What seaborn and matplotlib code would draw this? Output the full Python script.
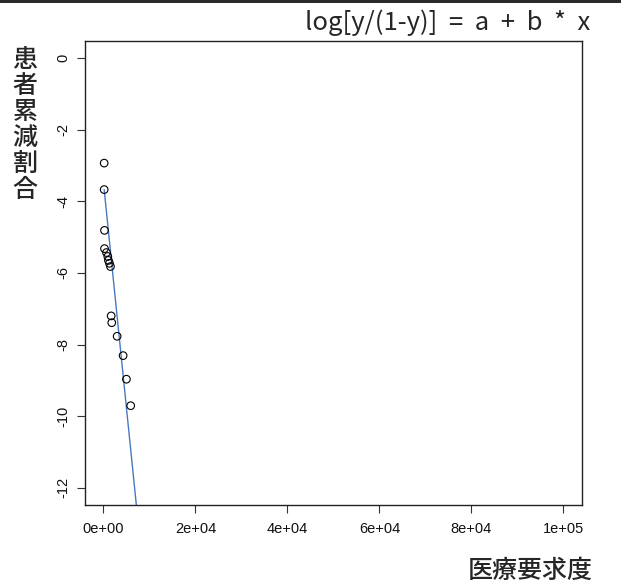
import numpy as np
import pandas as pd
import matplotlib
matplotlib.use("Agg")
import matplotlib.pyplot as plt
import seaborn as sns

# Observed points: medical demand (x) vs logit of cumulative patient reduction ratio (y)
demand = [150, 150, 220, 220, 650, 940, 1080, 1300, 1520, 1670, 1800, 2970, 4270, 4990, 5920]
logit_ratio = [-2.93, -3.67, -4.81, -5.32, -5.43, -5.54, -5.65, -5.73, -5.82,
               -7.20, -7.39, -7.77, -8.31, -8.97, -9.71]

# Fitted logistic-regression coefficients: log[y/(1-y)] = a + b * x
coef_a = -3.48
coef_b = -0.00126

x_ticks = [0, 20000, 40000, 60000, 80000, 100000]
x_tick_labels = ["0e+00", "2e+04", "4e+04", "6e+04", "8e+04", "1e+05"]
y_ticks = [0, -2, -4, -6, -8, -10, -12]
y_tick_labels = ["0", "-2", "-4", "-6", "-8", "-10", "-12"]

sns.set_style("white")
plt.rcParams["font.family"] = ["Liberation Sans", "DejaVu Sans"]

fig = plt.figure(figsize=(6.21, 5.87), dpi=100)
ax = fig.add_axes([0.137, 0.140, 0.800, 0.790])

pts = pd.DataFrame({"x": demand, "y": logit_ratio})
sns.scatterplot(data=pts, x="x", y="y", ax=ax, marker="o", s=30,
                facecolor="none", edgecolor="black", linewidth=0.8, zorder=3)

fit_x = np.linspace(min(demand), 100000, 400)
fit = pd.DataFrame({"x": fit_x, "y": coef_a + coef_b * fit_x})
sns.lineplot(data=fit, x="x", y="y", ax=ax, color="#4a78c0", linewidth=1.0, zorder=2)

ax.set_xlim(-4000, 104000)
ax.set_ylim(-12.48, 0.48)
ax.set_xticks(x_ticks)
ax.set_xticklabels(x_tick_labels, fontsize=10.5)
ax.set_yticks(y_ticks)
ax.set_yticklabels(y_tick_labels, fontsize=10.5, rotation=90, va="center")
ax.tick_params(axis="both", direction="out", length=5.8, width=0.8, color="#333333",
               bottom=True, left=True, labelcolor="#111111")
ax.tick_params(axis="x", pad=6.5)
ax.tick_params(axis="y", pad=5)
for sp in ax.spines.values():
    sp.set_visible(True)
    sp.set_color("#222222")
    sp.set_linewidth(1.0)
ax.set_xlabel("")
ax.set_ylabel("")

cjk = ["Noto Sans CJK JP", "DejaVu Sans"]
fig.text(0.950, 0.962, "log[y/(1-y)]  =  a  +  b  *  x", ha="right", va="center",
         fontsize=18.5, family=cjk)
fig.text(0.040, 0.787, "患\n者\n累\n減\n割\n合", ha="center", va="center",
         fontsize=18, family=cjk, fontweight="medium", linespacing=1.0)
fig.text(0.954, 0.027, "医療要求度", ha="right", va="center",
         fontsize=18, family=cjk, fontweight="medium")

# dark edge along the top of the page
fig.patches.append(plt.Rectangle((0, 0.995), 1, 0.005, transform=fig.transFigure,
                                 facecolor="#2a2a2a", edgecolor="none"))

fig.savefig("out.png", dpi=100)
